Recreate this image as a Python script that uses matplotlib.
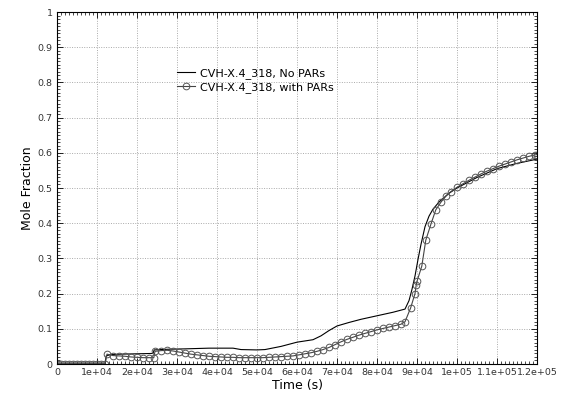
"""Mole fraction vs time, CVH-X.4_318 with and without PARs."""

import matplotlib
matplotlib.use("Agg")
import matplotlib.pyplot as plt
from matplotlib.ticker import AutoMinorLocator, FixedLocator

# time in seconds
no_pars_t = [0, 12000, 12300, 13500, 16000, 20000, 24000, 24300, 28000, 32000, 38000,
             44000, 46000, 50000, 52000, 56000, 60000, 64000, 66000, 68000, 70000,
             73000, 76000, 80000, 84000, 87000, 88000, 88700, 89500, 90300, 91000,
             92000, 93000, 94000, 95500, 98000, 100000, 105000, 110000, 115000, 120000]
no_pars_y = [0.0, 0.0, 0.023, 0.027, 0.028, 0.029, 0.030, 0.040, 0.042, 0.043, 0.045,
             0.045, 0.041, 0.040, 0.041, 0.050, 0.062, 0.069, 0.080, 0.095, 0.108,
             0.118, 0.127, 0.137, 0.147, 0.156, 0.180, 0.210, 0.250, 0.300, 0.340,
             0.390, 0.420, 0.440, 0.460, 0.485, 0.500, 0.530, 0.555, 0.570, 0.582]

with_pars_t = [0, 1000, 2000, 3000, 4000, 5000, 6000, 7000, 8000, 9000, 10000, 11000,
               12000, 12500, 14000, 15500, 17000, 18500, 20000, 21500, 23000, 24200,
               24500, 26000, 27500, 29000, 30500, 32000, 33500, 35000, 36500, 38000,
               39500, 41000, 42500, 44000, 45500, 47000, 48500, 50000, 51500, 53000,
               54500, 56000, 57500, 59000, 60500, 62000, 63500, 65000, 66500, 68000,
               69500, 71000, 72500, 74000, 75500, 77000, 78500, 80000, 81500, 83000,
               84500, 86000, 87000, 88400, 89500, 89800, 90000, 91200, 92200, 93500,
               94700, 96000, 97300, 98500, 100000, 101500, 103000, 104500, 106000,
               107500, 109000, 110500, 112000, 113500, 115000, 116500, 118000, 119500, 120000]
with_pars_y = [0.0, 0.0, 0.0, 0.0, 0.0, 0.0, 0.0, 0.0, 0.0, 0.0, 0.0, 0.0,
               0.0, 0.028, 0.024, 0.023, 0.022, 0.020, 0.019, 0.018, 0.018, 0.018,
               0.036, 0.038, 0.039, 0.037, 0.034, 0.031, 0.028, 0.026, 0.024, 0.022,
               0.021, 0.020, 0.019, 0.019, 0.018, 0.018, 0.018, 0.018, 0.018, 0.019,
               0.020, 0.021, 0.022, 0.023, 0.026, 0.029, 0.032, 0.036, 0.041, 0.047,
               0.055, 0.063, 0.070, 0.076, 0.082, 0.087, 0.092, 0.097, 0.101, 0.105,
               0.109, 0.113, 0.120, 0.159, 0.200, 0.225, 0.235, 0.278, 0.352, 0.398,
               0.438, 0.460, 0.478, 0.490, 0.502, 0.512, 0.522, 0.531, 0.540,
               0.548, 0.555, 0.562, 0.568, 0.574, 0.580, 0.585, 0.590, 0.594, 0.595]

x_ticks = [0, 10000, 20000, 30000, 40000, 50000, 60000, 70000, 80000, 90000,
           100000, 110000, 120000]
x_tick_labels = ["0", "1e+04", "2e+04", "3e+04", "4e+04", "5e+04", "6e+04", "7e+04",
                 "8e+04", "9e+04", "1e+05", "1.1e+05", "1.2e+05"]
y_ticks = [0, 0.1, 0.2, 0.3, 0.4, 0.5, 0.6, 0.7, 0.8, 0.9, 1]
y_tick_labels = ["0", "0.1", "0.2", "0.3", "0.4", "0.5", "0.6", "0.7", "0.8", "0.9", "1"]

plt.rcParams["font.family"] = ["DejaVu Sans"]

fig = plt.figure(figsize=(5.63, 3.96), dpi=100)
ax = fig.add_axes([57 / 563, 32 / 396, 480 / 563, 352 / 396])

ax.plot(no_pars_t, no_pars_y, color="black", lw=0.8, label="CVH-X.4_318, No PARs")
ax.plot(with_pars_t, with_pars_y, color="#444444", lw=0.8, marker="o", ms=4.8,
        mfc="none", mec="#555555", mew=0.7, label="CVH-X.4_318, with PARs")

ax.set_xlim(0, 120000)
ax.set_ylim(0, 1)
ax.xaxis.set_major_locator(FixedLocator(x_ticks))
ax.set_xticklabels(x_tick_labels)
ax.yaxis.set_major_locator(FixedLocator(y_ticks))
ax.set_yticklabels(y_tick_labels)
ax.xaxis.set_minor_locator(AutoMinorLocator(10))
ax.yaxis.set_minor_locator(AutoMinorLocator(10))
ax.tick_params(which="both", direction="in", top=True, right=True, labelsize=6.8,
               colors="black", labelcolor="#333333")
ax.tick_params(which="major", length=4, width=0.6, pad=3)
ax.tick_params(which="minor", length=2.5, width=0.5)
ax.grid(True, which="major", linestyle=(0, (1, 1.5)), color="#aaaaaa", lw=0.7)
for s in ax.spines.values():
    s.set_linewidth(0.8)

ax.set_xlabel("Time (s)", fontsize=9, labelpad=1)
ax.set_ylabel("Mole Fraction", fontsize=9)
ax.yaxis.set_label_coords(-0.048, 0.5)

ax.legend(loc="upper left", bbox_to_anchor=(0.23, 0.87), frameon=False, fontsize=8,
          handlelength=1.6, handletextpad=0.4, labelspacing=0.3)

fig.savefig("out.png", dpi=100)
